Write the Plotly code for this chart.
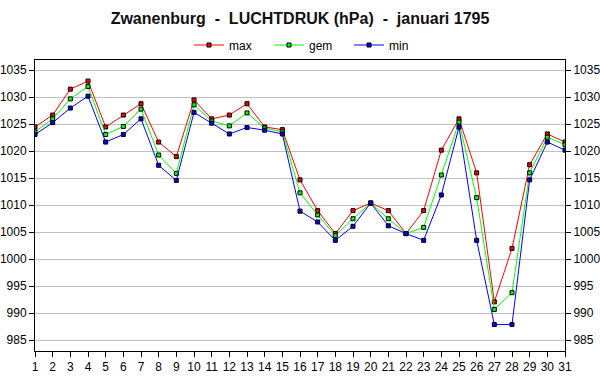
import plotly.graph_objects as go

days = list(range(1, 32))
p_max = [1024.5, 1026.7, 1031.5, 1033.0, 1024.5, 1026.7, 1028.8, 1021.7, 1019.0, 1029.5,
         1026.0, 1026.7, 1028.8, 1024.5, 1024.0, 1014.7, 1009.0, 1004.75, 1009.0, 1010.4,
         1009.0, 1004.75, 1009.0, 1020.2, 1026.0, 1016.0, 992.1, 1002.0, 1017.5, 1023.2, 1021.7]
p_gem = [1023.6, 1026.0, 1029.7, 1032.0, 1023.1, 1024.6, 1027.8, 1019.3, 1015.9, 1028.6,
         1025.6, 1024.7, 1027.1, 1024.3, 1023.6, 1012.3, 1008.2, 1004.4, 1007.5, 1010.4,
         1007.5, 1004.75, 1005.9, 1015.6, 1025.4, 1011.4, 990.7, 993.8, 1016.0, 1022.6, 1021.2]
p_min = [1023.1, 1025.3, 1028.0, 1030.2, 1021.7, 1023.1, 1026.0, 1017.4, 1014.6, 1027.2,
         1025.2, 1023.2, 1024.4, 1023.9, 1023.2, 1008.9, 1006.9, 1003.5, 1006.1, 1010.4,
         1006.2, 1004.75, 1003.5, 1011.9, 1024.5, 1003.5, 987.9, 987.9, 1014.7, 1021.7, 1020.2]
y_ticks = [985, 990, 995, 1000, 1005, 1010, 1015, 1020, 1025, 1030, 1035]

series = [("max", p_max, "#FF0000"), ("gem", p_gem, "#00FF00"), ("min", p_min, "#0000FF")]

fig = go.Figure()
for name, vals, col in series:
    fig.add_trace(go.Scatter(
        x=days, y=vals, name=name, mode="lines+markers",
        line=dict(color=col, width=1),
        marker=dict(symbol="square", size=4, color=col, line=dict(color="black", width=1)),
    ))

font = "Liberation Sans, Arial, sans-serif"
yr = [983.0, 1036.9]
fig.update_layout(
    width=600, height=390,
    margin=dict(l=35, r=35, t=60, b=39),
    paper_bgcolor="white", plot_bgcolor="white",
    font=dict(family=font, size=12, color="black"),
    title=dict(text="<b>Zwanenburg\u00a0 -\u00a0 LUCHTDRUK (hPa)\u00a0 -\u00a0 januari 1795</b>",
               x=0.5, xanchor="center", y=1 - 18 / 390, yanchor="middle", automargin=False,
               font=dict(family=font, size=16, color="#111")),
    legend=dict(orientation="h", x=0.517, xanchor="center", y=1 + 15 / 291, yanchor="middle",
                entrywidth=35, entrywidthmode="pixels", font=dict(size=12),
                bgcolor="rgba(0,0,0,0)"),
    showlegend=True,
    xaxis=dict(range=[1, 31], tickmode="array", tickvals=days, ticktext=[str(d) for d in days],
               ticks="outside", ticklen=5, tickcolor="black", showline=True, linecolor="black",
               linewidth=1, mirror=True, showgrid=False, zeroline=False, automargin=False,
               tickfont=dict(size=12)),
    yaxis=dict(range=yr, tickmode="array", tickvals=y_ticks, ticks="outside", ticklen=5,
               tickcolor="black", showline=True, linecolor="black", linewidth=1,
               showgrid=True, gridcolor="#C0C0C0", gridwidth=1, zeroline=False, automargin=False,
               tickfont=dict(size=12)),
    yaxis2=dict(range=yr, overlaying="y", side="right", tickmode="array", tickvals=y_ticks,
                ticks="outside", ticklen=5, tickcolor="black", showline=True, linecolor="black",
                linewidth=1, showgrid=False, zeroline=False, automargin=False,
                tickfont=dict(size=12)),
)
fig.add_trace(go.Scatter(x=days, y=p_max, yaxis="y2", mode="lines", showlegend=False,
                         hoverinfo="skip", line=dict(width=0), opacity=0))

fig.write_html("out.html", config={"displayModeBar": False},
               post_script="document.body.style.margin='0';")
